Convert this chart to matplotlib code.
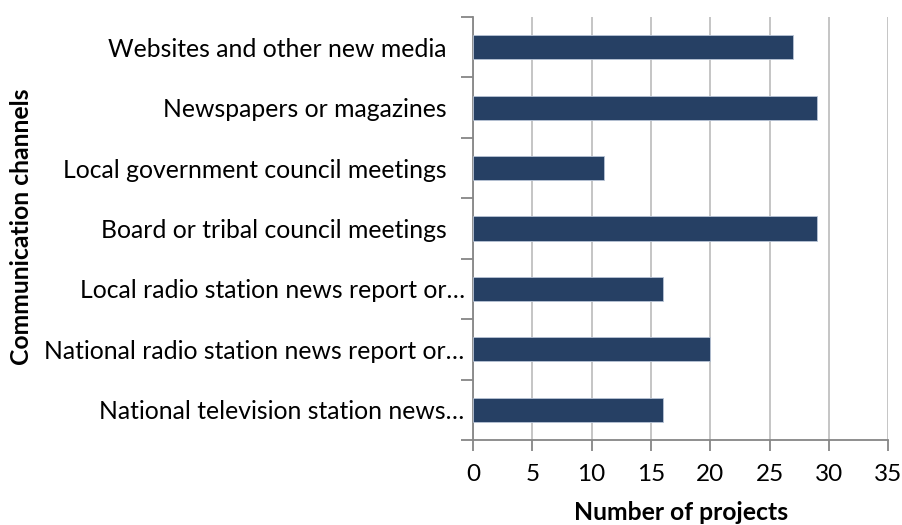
import numpy as np
import matplotlib.pyplot as plt
from matplotlib.ticker import MultipleLocator, FixedLocator

# communication channels, listed bottom to top
channels = [
    "National television station news\u2026",
    "National radio station news report or\u2026",
    "Local radio station news report or\u2026",
    "Board or tribal council meetings",
    "Local government council meetings",
    "Newspapers or magazines",
    "Websites and other new media",
]
projects = [16, 20, 16, 29, 11, 29, 27]
truncated = [True, True, True, False, False, False, False]

plt.rcParams['font.family'] = ['Lato', 'DejaVu Sans']

fig = plt.figure(figsize=(9.03, 5.25), dpi=100)
ax = fig.add_axes([0.5238, 0.1619, 0.4599, 0.8057])

y = np.arange(len(channels))
ax.barh(y, projects, height=0.4, color="#264064", edgecolor="#b8c4d6",
        linewidth=0.6, zorder=3)

ax.set_xlim(0, 35)
ax.set_ylim(-0.5, len(channels) - 0.5)
ax.xaxis.set_major_locator(MultipleLocator(5))
ax.grid(axis="x", color="#c0c0c0", linewidth=1.3, zorder=0)

ax.set_yticks(y)
ax.set_yticklabels(channels, fontsize=17.8)
ax.yaxis.set_minor_locator(FixedLocator(np.arange(-0.5, len(channels), 1)))
ax.tick_params(axis="y", which="major", length=0)
ax.tick_params(axis="y", which="minor", length=9, color="#868686", width=1.3)
ax.tick_params(axis="x", length=8, color="#868686", width=1.3,
               labelsize=17.5, pad=9)
for tick, cut in zip(ax.yaxis.get_major_ticks(), truncated):
    tick.set_pad(6 if cut else 19)

for side in ("top", "right"):
    ax.spines[side].set_visible(False)
for side in ("left", "bottom"):
    ax.spines[side].set_color("#868686")
    ax.spines[side].set_linewidth(1.3)

ax.set_xlabel("Number of projects", fontsize=17.8, fontweight="bold", labelpad=12)
fig.text(0.024, 0.569, "Communication channels", rotation=90, fontsize=17.8,
         fontweight="bold", ha="center", va="center")

fig.savefig("out.png", dpi=100)
